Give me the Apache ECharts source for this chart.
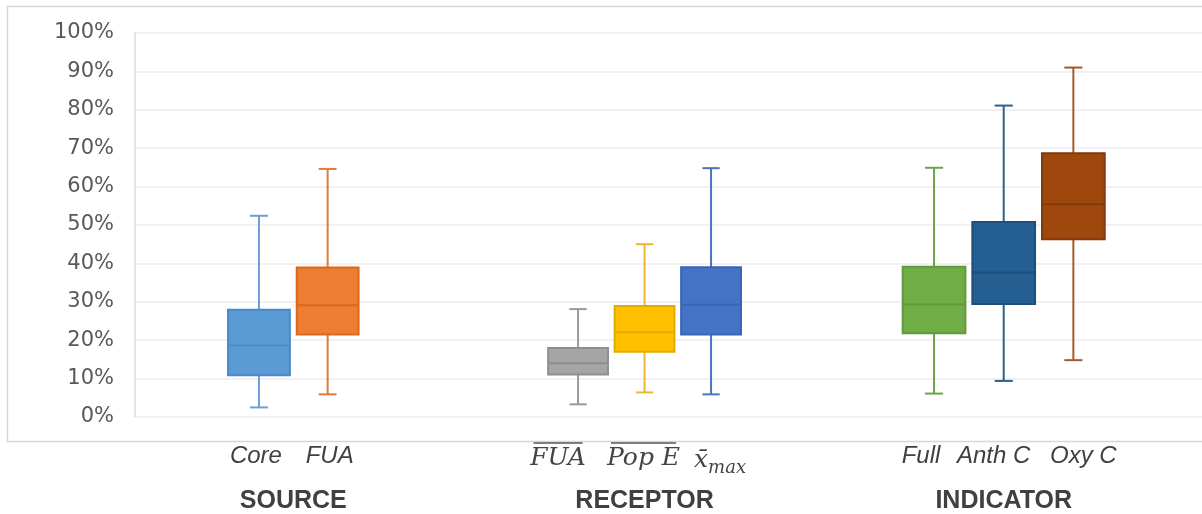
<!DOCTYPE html>
<html>
<head>
<meta charset="utf-8">
<script src="https://cdn.jsdelivr.net/npm/echarts@6/dist/echarts.min.js"></script>
<style>
html,body{margin:0;padding:0;background:#ffffff;}
#chart{width:1202px;height:514px;}
</style>
</head>
<body>
<div id="chart"></div>
<script>
// ---- data (percent) : [min, Q1, median, Q3, max] ----
const groupNames = ['SOURCE', 'RECEPTOR', 'INDICATOR'];

const sourceCategories = ['Core', 'FUA'];
const sourceStats = [
  [2.5, 10.9, 18.6, 27.9, 52.4],
  [5.9, 21.5, 29.1, 38.9, 64.6]
];

const receptorCategories = ['FUA', 'Pop E', 'xmax'];
const receptorStats = [
  [3.3, 11.1, 14.0, 18.0, 28.1],
  [6.4, 17.0, 22.1, 28.9, 45.0],
  [5.9, 21.5, 29.2, 39.0, 64.8]
];

const indicatorCategories = ['Full', 'Anth C', 'Oxy C'];
const indicatorStats = [
  [6.1, 21.8, 29.3, 39.1, 64.9],
  [9.4, 29.4, 37.6, 50.8, 81.1],
  [14.8, 46.3, 55.4, 68.7, 91.0]
];

const yMin = 0, yMax = 100, yInterval = 10;

// ---- styles ----
const fillColors = [
  ['#5B9BD5', '#ED7D31'],
  ['#A5A5A5', '#FFC000', '#4472C4'],
  ['#70AD47', '#255E91', '#9E480E']
];
const strokeColors = [
  ['#4A89C6', '#D9691F'],
  ['#8E8E8E', '#E3AB00', '#3A64B3'],
  ['#5F9A3B', '#1E4F7C', '#84390A']
];
const whiskerColors = [
  ['#6C9FD3', '#E07B3C'],
  ['#9A9A9A', '#EDB830', '#4A73BF'],
  ['#6AA446', '#2E5F8E', '#A35A2A']
];
const gridLayout = [
  {left: 224.6, width: 137.4},
  {left: 544.8, width: 199.5},
  {left: 899.2, width: 209}
];
// horizontal label nudges (px) per category label, style only
const labelShift = [
  [-3, 2],
  [-20, -1, 9],
  [-13, -10, 10]
];
const overlineWidth = {'FUA': 49, 'Pop E': 65};
const plotTop = 33, plotBottom = 97;

function makeRender(g) {
  return function (params, api) {
    const i = params.dataIndex;
    const ci = api.value(0);
    const pMin = api.coord([ci, api.value(1)]);
    const pQ1 = api.coord([ci, api.value(2)]);
    const pMed = api.coord([ci, api.value(3)]);
    const pQ3 = api.coord([ci, api.value(4)]);
    const pMax = api.coord([ci, api.value(5)]);
    const x = pMin[0];
    const band = api.size([1, 0])[0];
    const hw = band * 0.45;
    const cw = band * 0.13;
    const wc = whiskerColors[g][i];
    const sc = strokeColors[g][i];
    const ws = {stroke: wc, lineWidth: 2};
    return {
      type: 'group',
      children: [
        {type: 'line', shape: {x1: x, y1: pMax[1], x2: x, y2: pQ3[1]}, style: ws},
        {type: 'line', shape: {x1: x, y1: pQ1[1], x2: x, y2: pMin[1]}, style: ws},
        {type: 'line', shape: {x1: x - cw, y1: pMax[1], x2: x + cw, y2: pMax[1]}, style: ws},
        {type: 'line', shape: {x1: x - cw, y1: pMin[1], x2: x + cw, y2: pMin[1]}, style: ws},
        {type: 'rect', shape: {x: x - hw, y: pQ3[1], width: 2 * hw, height: pQ1[1] - pQ3[1]},
          style: {fill: fillColors[g][i], stroke: sc, lineWidth: 2}},
        {type: 'line', shape: {x1: x - hw, y1: pMed[1], x2: x + hw, y2: pMed[1]},
          style: {stroke: sc, lineWidth: 2}}
      ]
    };
  };
}

const allCats = [sourceCategories, receptorCategories, indicatorCategories];
const allStats = [sourceStats, receptorStats, indicatorStats];

function spacer(shift) {
  if (!shift) return ['', ''];
  const w = Math.abs(shift) * 2;
  const tok = '{sp' + w + '|}';
  return shift > 0 ? [tok, ''] : ['', tok];
}

const grids = [{left: 135, right: 0, top: plotTop, bottom: plotBottom, containLabel: false, outerBoundsMode: 'none'}];
const xAxes = [{type: 'category', gridIndex: 0, data: [''], show: false}];
const yAxes = [{
  type: 'value', gridIndex: 0, min: yMin, max: yMax, interval: yInterval,
  axisLine: {show: true, lineStyle: {color: '#dcdcdc', width: 1.5}},
  axisTick: {show: false},
  splitLine: {show: true, lineStyle: {color: '#ececec', width: 1.5}},
  axisLabel: {
    formatter: '{value}%', margin: 21, color: '#595959',
    fontFamily: 'DejaVu Sans', fontSize: 21
  }
}];
const series = [];

for (let g = 0; g < 3; g++) {
  const k = g + 1;
  grids.push({left: gridLayout[g].left, width: gridLayout[g].width, top: plotTop, bottom: plotBottom,
    containLabel: false, outerBoundsMode: 'none'});
  const cats = allCats[g];
  const rich = {
    t: {fontFamily: 'Liberation Sans', fontStyle: 'italic', fontSize: 24, color: '#404040'},
    m: {fontFamily: 'DejaVu Serif', fontStyle: 'italic', fontSize: 25, color: '#454545', lineHeight: 28},
    s: {fontFamily: 'DejaVu Serif', fontStyle: 'italic', fontSize: 18, color: '#454545', padding: [15, 0, 0, 0]},
    gap: {width: 1, height: 2, lineHeight: 2}
  };
  labelShift[g].forEach(function (s) {
    if (s) rich['sp' + Math.abs(s) * 2] = {width: Math.abs(s) * 2, height: 2};
  });
  Object.keys(overlineWidth).forEach(function (key, j) {
    rich['bar' + j] = {width: overlineWidth[key], height: 1.6, lineHeight: 2, backgroundColor: '#555555'};
  });
  const labelCfg = {
    margin: g === 1 ? 25 : 27, interval: 0, rich: rich,
    formatter: function (v, idx) {
      const sp = spacer(labelShift[g][idx]);
      if (g === 1) {
        if (v === 'xmax') {
          return sp[0] + '{gap|}' + sp[1] + '\n' + sp[0] + '{m|x\u0304}{s|max}' + sp[1];
        }
        const j = Object.keys(overlineWidth).indexOf(v);
        return sp[0] + '{bar' + j + '|}' + sp[1] + '\n' + sp[0] + '{m|' + v + '}' + sp[1];
      }
      return sp[0] + '{t|' + v + '}' + sp[1];
    }
  };
  xAxes.push({
    type: 'category', gridIndex: k, data: cats,
    axisLine: {show: false}, axisTick: {show: false}, splitLine: {show: false},
    axisLabel: labelCfg,
    name: groupNames[g], nameLocation: 'middle', nameGap: 72,
    nameTextStyle: {fontFamily: 'Liberation Sans', fontWeight: 'bold', fontSize: 25, color: '#404040'}
  });
  yAxes.push({type: 'value', gridIndex: k, min: yMin, max: yMax, show: false, splitLine: {show: false}});
  series.push({
    type: 'custom', coordinateSystem: 'cartesian2d', xAxisIndex: k, yAxisIndex: k,
    encode: {x: 0, y: [1, 2, 3, 4, 5]},
    renderItem: makeRender(g),
    data: allStats[g].map(function (s, i) { return [i].concat(s); })
  });
}

const chart = echarts.init(document.getElementById('chart'), null, {renderer: 'canvas'});
chart.setOption({
  backgroundColor: '#ffffff',
  animation: false,
  graphic: [{
    type: 'rect', silent: true, z: -10,
    shape: {x: 7.5, y: 6.5, width: 1200, height: 435},
    style: {fill: 'none', stroke: '#d6d6d6', lineWidth: 1.5}
  }],
  grid: grids,
  xAxis: xAxes,
  yAxis: yAxes,
  series: series
});
</script>
</body>
</html>
